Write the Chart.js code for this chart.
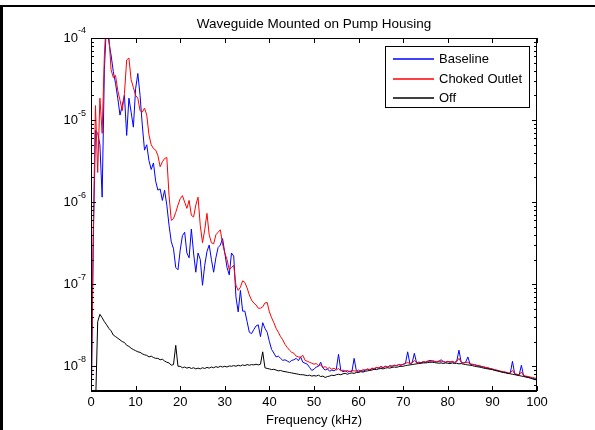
<!DOCTYPE html>
<html>
<head>
<meta charset="utf-8">
<title>Waveguide Mounted on Pump Housing</title>
<script src="https://cdn.jsdelivr.net/npm/chart.js@4.4.1/dist/chart.umd.min.js"></script>
<style>
  html, body { margin: 0; padding: 0; background: #fff; }
  #wrap { position: relative; width: 595px; height: 430px; }
  #frame { position: absolute; left: 0; top: 5px; width: 592px; height: 425px; border-top: 2px solid #000; border-left: 3px solid #000; pointer-events: none; }
</style>
</head>
<body>
<div id="wrap">
  <canvas id="spectrum" width="595" height="430"></canvas>
  <div id="frame"></div>
</div>
<script>
// frequency bins (kHz), one reading every 0.5 kHz
const freq = [
  0, 0.5, 1, 1.5, 2, 2.5, 3, 3.5, 4, 4.5,
  5, 5.5, 6, 6.5, 7, 7.5, 8, 8.5, 9, 9.5,
  10, 10.5, 11, 11.5, 12, 12.5, 13, 13.5, 14, 14.5,
  15, 15.5, 16, 16.5, 17, 17.5, 18, 18.5, 19, 19.5,
  20, 20.5, 21, 21.5, 22, 22.5, 23, 23.5, 24, 24.5,
  25, 25.5, 26, 26.5, 27, 27.5, 28, 28.5, 29, 29.5,
  30, 30.5, 31, 31.5, 32, 32.5, 33, 33.5, 34, 34.5,
  35, 35.5, 36, 36.5, 37, 37.5, 38, 38.5, 39, 39.5,
  40, 40.5, 41, 41.5, 42, 42.5, 43, 43.5, 44, 44.5,
  45, 45.5, 46, 46.5, 47, 47.5, 48, 48.5, 49, 49.5,
  50, 50.5, 51, 51.5, 52, 52.5, 53, 53.5, 54, 54.5,
  55, 55.5, 56, 56.5, 57, 57.5, 58, 58.5, 59, 59.5,
  60, 60.5, 61, 61.5, 62, 62.5, 63, 63.5, 64, 64.5,
  65, 65.5, 66, 66.5, 67, 67.5, 68, 68.5, 69, 69.5,
  70, 70.5, 71, 71.5, 72, 72.5, 73, 73.5, 74, 74.5,
  75, 75.5, 76, 76.5, 77, 77.5, 78, 78.5, 79, 79.5,
  80, 80.5, 81, 81.5, 82, 82.5, 83, 83.5, 84, 84.5,
  85, 85.5, 86, 86.5, 87, 87.5, 88, 88.5, 89, 89.5,
  90, 90.5, 91, 91.5, 92, 92.5, 93, 93.5, 94, 94.5,
  95, 95.5, 96, 96.5, 97, 97.5, 98, 98.5, 99, 99.5,
  100
];

const baseline = [
  2e-9, 3e-7, 7.5e-6, 6.9e-6, 5e-6, 1.15e-6, 4.1e-5, 1.6e-4, 9e-5, 6.2e-5,
  3.9e-5, 2.8e-5, 1.85e-5, 1.15e-5, 1.5e-5, 2e-5, 6.5e-6, 1.85e-5, 1.25e-5, 8.2e-6,
  2.4e-5, 3.7e-5, 2e-5, 8.7e-6, 4.3e-6, 5e-6, 3.2e-6, 2.5e-6, 3e-6, 1.8e-6,
  1.4e-6, 1.45e-6, 1.05e-6, 1.4e-6, 9.2e-7, 5.2e-7, 3.3e-7, 2.7e-7, 1.6e-7, 1.5e-7,
  2.6e-7, 3.9e-7, 4.3e-7, 2.4e-7, 2.1e-7, 4.7e-7, 2.4e-7, 1.4e-7, 2.4e-7, 2e-7,
  9.7e-8, 1.7e-7, 2.5e-7, 3e-7, 2e-7, 1.4e-7, 2.1e-7, 2.8e-7, 3e-7, 3.6e-7,
  2.4e-7, 1.6e-7, 1.3e-7, 2.4e-7, 2.2e-7, 7e-8, 4.6e-8, 8.4e-8, 4.7e-8, 4.7e-8,
  3.5e-8, 2.6e-8, 2.5e-8, 2.8e-8, 3.1e-8, 3.2e-8, 2.3e-8, 3.4e-8, 2.9e-8, 2.6e-8,
  2e-8, 1.6e-8, 1.45e-8, 1.3e-8, 1.33e-8, 1.25e-8, 1.18e-8, 1.2e-8, 1.16e-8, 1.12e-8,
  1.18e-8, 1.2e-8, 1.25e-8, 1.17e-8, 1.3e-8, 1.12e-8, 1.09e-8, 1.06e-8, 9.7e-9, 8.9e-9,
  9.2e-9, 9.8e-9, 1.0e-8, 1.12e-8, 9.5e-9, 9.0e-9, 9.3e-9, 8.7e-9, 9.0e-9, 8.8e-9,
  9.2e-9, 1.4e-8, 9.0e-9, 8.6e-9, 8.8e-9, 8.5e-9, 8.7e-9, 8.6e-9, 1.25e-8, 8.8e-9,
  8.6e-9, 8.9e-9, 8.7e-9, 9.0e-9, 9.2e-9, 9.0e-9, 9.4e-9, 9.2e-9, 9.6e-9, 9.5e-9,
  9.9e-9, 9.6e-9, 1.0e-8, 9.8e-9, 1.02e-8, 1.0e-8, 1.03e-8, 1.01e-8, 1.05e-8, 1.03e-8,
  1.06e-8, 1.08e-8, 1.5e-8, 1.08e-8, 1.1e-8, 1.44e-8, 1.1e-8, 1.12e-8, 1.1e-8, 1.13e-8,
  1.12e-8, 1.15e-8, 1.18e-8, 1.16e-8, 1.15e-8, 1.13e-8, 1.15e-8, 1.2e-8, 1.14e-8, 1.12e-8,
  1.15e-8, 1.12e-8, 1.14e-8, 1.11e-8, 1.15e-8, 1.57e-8, 1.12e-8, 1.1e-8, 1.12e-8, 1.3e-8,
  1.06e-8, 1.05e-8, 1.04e-8, 1.02e-8, 1.01e-8, 9.9e-9, 9.8e-9, 9.6e-9, 9.5e-9, 9.3e-9,
  9.2e-9, 9.0e-9, 8.9e-9, 8.7e-9, 8.6e-9, 8.5e-9, 8.4e-9, 8.2e-9, 8.2e-9, 1.15e-8,
  8.0e-9, 7.9e-9, 7.8e-9, 1.03e-8, 7.6e-9, 7.5e-9, 7.4e-9, 7.2e-9, 7.0e-9, 6.9e-9,
  6.8e-9
];

const choked = [
  2e-9, 4e-7, 1.5e-5, 2.3e-6, 1.85e-5, 6.9e-6, 6.2e-5, 2e-4, 1.1e-4, 4.1e-5,
  3.3e-5, 3.5e-5, 2.3e-5, 1.75e-5, 1.3e-5, 2.1e-5, 5.4e-5, 5.7e-5, 3.1e-5, 2.5e-5,
  2e-5, 1.85e-5, 1.3e-5, 1.25e-5, 1.4e-5, 1.15e-5, 6.6e-6, 5e-6, 4.5e-6, 4.3e-6,
  3.7e-6, 2.7e-6, 3.1e-6, 3.4e-6, 3.5e-6, 1.2e-6, 6e-7, 6.3e-7, 7.5e-7, 9.2e-7,
  1.1e-6, 1.2e-6, 1e-6, 8.4e-7, 1.05e-6, 6.9e-7, 6.6e-7, 9.2e-7, 1.15e-6, 5.2e-7,
  3.2e-7, 4.6e-7, 7.3e-7, 4e-7, 3.2e-7, 3.1e-7, 4e-7, 4.3e-7, 4.6e-7, 3.1e-7,
  2.4e-7, 2e-7, 1.5e-7, 1.6e-7, 1.7e-7, 9.7e-8, 8.4e-8, 9.2e-8, 1.1e-7, 1.05e-7,
  9e-8, 7.4e-8, 6.4e-8, 5.9e-8, 5.6e-8, 5.1e-8, 5.1e-8, 5.3e-8, 5.9e-8, 6e-8,
  4.6e-8, 3.9e-8, 3.4e-8, 2.9e-8, 2.6e-8, 2.3e-8, 2.1e-8, 1.85e-8, 1.7e-8, 1.57e-8,
  1.48e-8, 1.44e-8, 1.33e-8, 1.3e-8, 1.3e-8, 1.36e-8, 1.18e-8, 1.15e-8, 1.12e-8, 1.09e-8,
  1.06e-8, 1.08e-8, 1.02e-8, 1.04e-8, 9.7e-9, 9.9e-9, 9.4e-9, 9.6e-9, 9.2e-9, 9.5e-9,
  9.0e-9, 9.4e-9, 8.8e-9, 9.0e-9, 8.7e-9, 8.9e-9, 8.6e-9, 8.9e-9, 8.8e-9, 8.7e-9,
  9.0e-9, 8.8e-9, 9.1e-9, 9.0e-9, 9.3e-9, 9.1e-9, 9.5e-9, 9.4e-9, 9.7e-9, 9.6e-9,
  9.9e-9, 9.7e-9, 1.0e-8, 9.8e-9, 1.01e-8, 1.0e-8, 1.03e-8, 1.02e-8, 1.05e-8, 1.04e-8,
  1.06e-8, 1.08e-8, 1.12e-8, 1.07e-8, 1.1e-8, 1.18e-8, 1.1e-8, 1.12e-8, 1.11e-8, 1.14e-8,
  1.13e-8, 1.16e-8, 1.15e-8, 1.17e-8, 1.15e-8, 1.14e-8, 1.16e-8, 1.13e-8, 1.15e-8, 1.12e-8,
  1.14e-8, 1.13e-8, 1.15e-8, 1.12e-8, 1.14e-8, 1.25e-8, 1.12e-8, 1.1e-8, 1.11e-8, 1.12e-8,
  1.07e-8, 1.06e-8, 1.05e-8, 1.03e-8, 1.02e-8, 1.0e-8, 9.9e-9, 9.7e-9, 9.6e-9, 9.4e-9,
  9.3e-9, 9.1e-9, 9.0e-9, 8.8e-9, 8.7e-9, 8.6e-9, 8.5e-9, 8.3e-9, 8.3e-9, 8.9e-9,
  8.1e-9, 8.0e-9, 7.9e-9, 8.5e-9, 7.7e-9, 7.6e-9, 7.5e-9, 7.4e-9, 7.3e-9, 7.2e-9,
  7.1e-9
];

const off = [
  1e-9, 1e-9, 3e-9, 3.5e-8, 4.3e-8, 3.9e-8, 3.5e-8, 3.2e-8, 2.9e-8, 2.7e-8,
  2.4e-8, 2.3e-8, 2.2e-8, 2.1e-8, 2.0e-8, 1.95e-8, 1.8e-8, 1.75e-8, 1.66e-8, 1.6e-8,
  1.55e-8, 1.5e-8, 1.48e-8, 1.42e-8, 1.38e-8, 1.36e-8, 1.3e-8, 1.33e-8, 1.28e-8, 1.25e-8,
  1.25e-8, 1.2e-8, 1.22e-8, 1.16e-8, 1.12e-8, 1.1e-8, 1.03e-8, 1.05e-8, 1.8e-8, 1.0e-8,
  1.0e-8, 9.6e-9, 9.8e-9, 9.5e-9, 9.7e-9, 9.4e-9, 9.6e-9, 9.3e-9, 9.5e-9, 9.3e-9,
  9.6e-9, 9.4e-9, 9.7e-9, 9.5e-9, 9.8e-9, 9.6e-9, 9.9e-9, 9.7e-9, 1.0e-8, 9.8e-9,
  1.0e-8, 9.8e-9, 1.01e-8, 1.0e-8, 1.02e-8, 1.0e-8, 1.03e-8, 1.01e-8, 1.04e-8, 1.02e-8,
  1.05e-8, 1.03e-8, 1.05e-8, 1.04e-8, 1.06e-8, 1.04e-8, 1.06e-8, 1.5e-8, 9.6e-9, 9.4e-9,
  9.3e-9, 9.1e-9, 9.2e-9, 9.0e-9, 8.8e-9, 8.9e-9, 8.7e-9, 8.6e-9, 8.5e-9, 8.4e-9,
  8.3e-9, 8.2e-9, 8.1e-9, 8.0e-9, 7.9e-9, 7.9e-9, 7.8e-9, 7.7e-9, 7.8e-9, 7.6e-9,
  7.7e-9, 7.6e-9, 7.8e-9, 7.5e-9, 7.6e-9, 7.3e-9, 7.5e-9, 7.6e-9, 7.8e-9, 7.7e-9,
  7.9e-9, 8.0e-9, 7.9e-9, 8.1e-9, 8.2e-9, 8.0e-9, 8.2e-9, 8.3e-9, 8.2e-9, 8.4e-9,
  8.4e-9, 8.6e-9, 8.5e-9, 8.7e-9, 8.8e-9, 8.9e-9, 9.0e-9, 9.2e-9, 9.1e-9, 9.3e-9,
  9.4e-9, 9.3e-9, 9.5e-9, 9.6e-9, 9.5e-9, 9.7e-9, 9.8e-9, 9.7e-9, 9.9e-9, 1.0e-8,
  1.0e-8, 1.02e-8, 1.03e-8, 1.04e-8, 1.05e-8, 1.06e-8, 1.07e-8, 1.08e-8, 1.09e-8, 1.1e-8,
  1.1e-8, 1.11e-8, 1.12e-8, 1.12e-8, 1.11e-8, 1.1e-8, 1.09e-8, 1.1e-8, 1.08e-8, 1.1e-8,
  1.09e-8, 1.08e-8, 1.1e-8, 1.08e-8, 1.09e-8, 1.07e-8, 1.08e-8, 1.06e-8, 1.05e-8, 1.04e-8,
  1.03e-8, 1.02e-8, 1.0e-8, 9.9e-9, 9.8e-9, 9.7e-9, 9.5e-9, 9.4e-9, 9.3e-9, 9.2e-9,
  9.1e-9, 8.9e-9, 8.8e-9, 8.7e-9, 8.5e-9, 8.4e-9, 8.3e-9, 8.2e-9, 8.1e-9, 8.0e-9,
  7.9e-9, 7.8e-9, 7.7e-9, 7.6e-9, 7.5e-9, 7.4e-9, 7.3e-9, 7.2e-9, 7.1e-9, 7.0e-9,
  6.9e-9
];

const seriesLabels = ['Baseline', 'Choked Outlet', 'Off'];
const seriesColors = ['#0000ff', '#ff0000', '#000000'];

const xTicks = [0, 10, 20, 30, 40, 50, 60, 70, 80, 90, 100];
const yDecades = [-8, -7, -6, -5, -4];
const yMin = 5e-9;
const yMax = 1e-4;

const chartTitle = 'Waveguide Mounted on Pump Housing';
const xTitle = 'Frequency (kHz)';
const FONT = '"Liberation Sans", Arial, sans-serif';

function points(values) {
  return freq.map((f, i) => ({ x: f, y: values[i] }));
}

function series(i, values, order) {
  return {
    label: seriesLabels[i],
    data: points(values),
    borderColor: seriesColors[i],
    backgroundColor: seriesColors[i],
    borderWidth: 1,
    pointRadius: 0,
    tension: 0,
    fill: false,
    order
  };
}

// box, inward ticks, labels and legend drawn on top of the traces
const axesPlugin = {
  id: 'boxAxes',
  afterDatasetsDraw(chart) {
    const { ctx, chartArea: a, scales: { x, y } } = chart;
    ctx.save();
    ctx.strokeStyle = '#000';
    ctx.fillStyle = '#000';
    ctx.lineWidth = 1;

    ctx.beginPath();
    ctx.moveTo(a.left + 0.5, a.bottom);
    ctx.lineTo(a.left + 0.5, a.top + 0.5);
    ctx.lineTo(a.right - 0.5, a.top + 0.5);
    ctx.lineTo(a.right - 0.5, a.bottom);

    xTicks.forEach((v) => {
      const px = Math.round(x.getPixelForValue(v)) + 0.5;
      ctx.moveTo(px, a.bottom);
      ctx.lineTo(px, a.bottom - 5);
      ctx.moveTo(px, a.top);
      ctx.lineTo(px, a.top + 5);
    });

    const lo = Math.floor(Math.log10(yMin));
    const hi = Math.ceil(Math.log10(yMax));
    for (let e = lo; e <= hi; e += 1) {
      for (let k = 1; k <= 9; k += 1) {
        const v = k * Math.pow(10, e);
        if (v < yMin * 0.999 || v > yMax * 1.001) continue;
        const py = Math.round(y.getPixelForValue(v)) + 0.5;
        const len = k === 1 ? 5 : 3;
        ctx.moveTo(a.left, py);
        ctx.lineTo(a.left + len, py);
        ctx.moveTo(a.right, py);
        ctx.lineTo(a.right - len, py);
      }
    }
    ctx.stroke();

    ctx.lineWidth = 2;
    ctx.beginPath();
    ctx.moveTo(a.left, a.bottom);
    ctx.lineTo(a.right, a.bottom);
    ctx.stroke();

    // x tick labels
    ctx.font = '13px ' + FONT;
    ctx.textAlign = 'center';
    ctx.textBaseline = 'middle';
    xTicks.forEach((v) => {
      ctx.fillText(String(v), x.getPixelForValue(v), a.bottom + 11.5);
    });

    // y tick labels as 10 with a raised exponent
    yDecades.forEach((e) => {
      const py = y.getPixelForValue(Math.pow(10, e));
      const exp = String(e);
      ctx.font = '9px ' + FONT;
      ctx.textAlign = 'right';
      const expRight = a.left - 5;
      const expWidth = ctx.measureText(exp).width;
      ctx.fillText(exp, expRight, py - 7);
      ctx.font = '13px ' + FONT;
      ctx.fillText('10', expRight - expWidth, py + 0.5);
    });

    // titles
    const cx = (a.left + a.right) / 2;
    ctx.textAlign = 'center';
    ctx.font = '13.5px ' + FONT;
    ctx.textBaseline = 'alphabetic';
    ctx.fillText(chartTitle, cx, a.top - 10);
    ctx.font = '13px ' + FONT;
    ctx.textBaseline = 'middle';
    ctx.fillText(xTitle, cx, a.bottom + 29);

    // legend box in the upper right corner
    const box = { left: 385.5, top: 46.5, width: 144, height: 61 };
    ctx.fillStyle = '#fff';
    ctx.fillRect(box.left, box.top, box.width, box.height);
    ctx.lineWidth = 1;
    ctx.strokeStyle = '#000';
    ctx.strokeRect(box.left, box.top, box.width, box.height);
    ctx.textAlign = 'left';
    ctx.textBaseline = 'middle';
    seriesLabels.forEach((label, i) => {
      const rowY = Math.round(box.top + 12.5 + i * 19.5);
      ctx.strokeStyle = seriesColors[i];
      ctx.lineWidth = 1.4;
      ctx.beginPath();
      ctx.moveTo(393, rowY);
      ctx.lineTo(434, rowY);
      ctx.stroke();
      ctx.fillStyle = '#000';
      ctx.fillText(label, 439, rowY + 0.5);
    });
    ctx.restore();
  }
};

new Chart(document.getElementById('spectrum'), {
  type: 'line',
  data: {
    datasets: [
      series(0, baseline, 3),
      series(1, choked, 2),
      series(2, off, 1)
    ]
  },
  options: {
    responsive: false,
    animation: false,
    events: [],
    layout: { padding: { left: 91, right: 58, top: 38, bottom: 39 } },
    plugins: { legend: { display: false }, tooltip: { enabled: false }, title: { display: false } },
    scales: {
      x: { type: 'linear', min: 0, max: 100, display: false },
      y: { type: 'logarithmic', min: yMin, max: yMax, display: false }
    }
  },
  plugins: [axesPlugin]
});
</script>
</body>
</html>
